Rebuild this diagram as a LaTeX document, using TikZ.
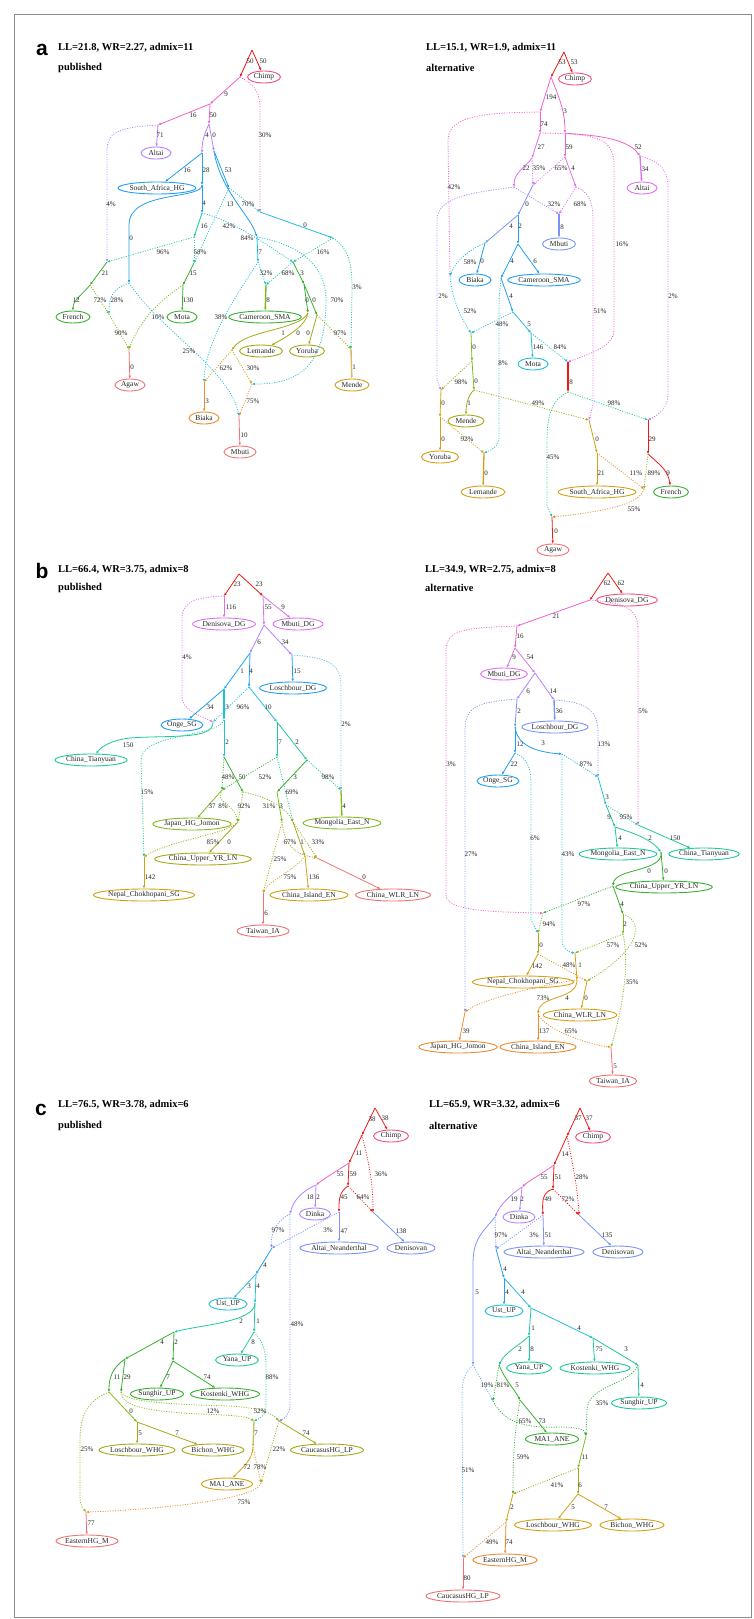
\documentclass[tikz,border=0pt]{standalone}
\usepackage{fontspec}
\setmainfont{Liberation Serif}
\setsansfont{Liberation Sans}
\usetikzlibrary{shapes.geometric,arrows.meta}
\definecolor{cRed}{HTML}{F01818}
\definecolor{cRose}{HTML}{F0507A}
\definecolor{cPink}{HTML}{F064C8}
\definecolor{cMag}{HTML}{E070F0}
\definecolor{cVio}{HTML}{B482FF}
\definecolor{cPeri}{HTML}{7C94F8}
\definecolor{cBlue}{HTML}{20A0F0}
\definecolor{cSky}{HTML}{60B8F8}
\definecolor{cCyan}{HTML}{20C0D8}
\definecolor{cTeal}{HTML}{20C8A0}
\definecolor{cGreen}{HTML}{38B030}
\definecolor{cLime}{HTML}{80BC20}
\definecolor{cOlive}{HTML}{A8A818}
\definecolor{cGold}{HTML}{D4A014}
\definecolor{cTan}{HTML}{D8B868}
\definecolor{cOrange}{HTML}{EC8C2C}
\definecolor{cSalmon}{HTML}{F07272}
\tikzset{
 lf/.style={ellipse, draw=#1, line width=0.9pt, inner sep=0pt, minimum height=12pt, text=black!85, font=\fontsize{7.5}{8}\selectfont},
 se/.style={draw=#1, line width=0.8pt, -{Latex[length=3pt,width=2.6pt]}},
 de/.style={draw=#1, line width=0.8pt, dash pattern=on 1pt off 1.5pt, -{Latex[length=3pt,width=2.6pt]}},
 lab/.style={font=\fontsize{7}{8}\selectfont, inner sep=0pt, text=black!85},
 ttl/.style={font=\bfseries\fontsize{10.5}{12}\selectfont, anchor=west, inner sep=0pt},
 plet/.style={font=\sffamily\bfseries\fontsize{21}{24}\selectfont, inner sep=0pt},
}
\begin{document}
\begin{tikzpicture}[x=1pt,y=-1pt]
\useasboundingbox (0,0) rectangle (753,1619);
\fill[white] (0,0) rectangle (753,1619);
\draw[black!45, line width=0.8pt] (14.5,14.5) rectangle (751,1617);
% ================= titles
\node[plet] (La) at (42,50) {a};
\node[ttl] (Ta1) at (58,48) {LL=21.8, WR=2.27, admix=11};
\node[ttl] (Ta2) at (58,68) {published};
\node[ttl] (Ta3) at (426,48) {LL=15.1, WR=1.9, admix=11};
\node[ttl] (Ta4) at (426,68) {alternative};
\node[plet] (Lb) at (42,571) {b};
\node[ttl] (Tb1) at (58,570) {LL=66.4, WR=3.75, admix=8};
\node[ttl] (Tb2) at (58,588) {published};
\node[ttl] (Tb3) at (425,570) {LL=34.9, WR=2.75, admix=8};
\node[ttl] (Tb4) at (425,588) {alternative};
\node[plet] (Lc) at (41,1110) {c};
\node[ttl] (Tc1) at (58,1105) {LL=76.5, WR=3.78, admix=6};
\node[ttl] (Tc2) at (58,1126) {published};
\node[ttl] (Tc3) at (429,1105) {LL=65.9, WR=3.32, admix=6};
\node[ttl] (Tc4) at (429,1126) {alternative};
% ================= panel a left
\coordinate (Ar) at (252,50); \coordinate (A1) at (240,77); \coordinate (A2) at (210,104);
\coordinate (A3) at (158,125); \coordinate (A4) at (209,124); \coordinate (A5) at (202,153);
\coordinate (A6) at (214,151); \coordinate (A7) at (202,185); \coordinate (A8) at (202,213);
\coordinate (A9) at (229,188); \coordinate (A11) at (260,212); \coordinate (A10) at (257,237);
\coordinate (A13) at (333,238); \coordinate (A14) at (194,237); \coordinate (A19) at (107,262);
\coordinate (A12) at (194,263); \coordinate (A15) at (258,262); \coordinate (A16) at (293,262);
\coordinate (A18) at (90,285); \coordinate (A21) at (129,283); \coordinate (A23) at (183,285);
\coordinate (A17) at (266,285); \coordinate (A25) at (304,284); \coordinate (A20) at (109,314);
\coordinate (A26) at (308,313); \coordinate (A27) at (317,315); \coordinate (A22) at (129,349);
\coordinate (A28) at (232,350); \coordinate (A29) at (351,349); \coordinate (A30) at (204,382);
\coordinate (A31) at (252,384); \coordinate (A24) at (239,416);
\node[lf=cRose, minimum width=33pt] (AChimp) at (264,77) {Chimp};
\node[lf=cVio, minimum width=30pt] (AAltai) at (156,153) {Altai};
\node[lf=cBlue, minimum width=75pt] (ASAHG) at (157,188) {South\_Africa\_HG};
\node[lf=cGreen, minimum width=34pt] (AFrench) at (73,317) {French};
\node[lf=cGreen, minimum width=30pt] (AMota) at (182,317) {Mota};
\node[lf=cGreen, minimum width=70pt] (ACam) at (265,317) {Cameroon\_SMA};
\node[lf=cOlive, minimum width=43pt] (ALem) at (261,351) {Lemande};
\node[lf=cOlive, minimum width=35pt] (AYor) at (307,351) {Yoruba};
\node[lf=cGold, minimum width=34pt] (AMende) at (352,385) {Mende};
\node[lf=cSalmon, minimum width=30pt] (AAgaw) at (130,385) {Agaw};
\node[lf=cOrange, minimum width=30pt] (ABiaka) at (204,418) {Biaka};
\node[lf=cSalmon, minimum width=32pt] (AMbuti) at (240,452) {Mbuti};
\draw[se=cRed] (Ar) -- (A1) node[lab] at (250,61) {50};
\draw[se=cRed] (Ar) -- (AChimp) node[lab] at (263,61) {50};
\draw[se=cPink] (A1) -- (A2) node[lab] at (226,94) {9};
\draw[de=cPink] (A1) .. controls (255,85) and (260,92) .. (260,110) -- (A11) node[lab] at (265,135) {30\%};
\draw[se=cPink] (A2) -- (A3) node[lab] at (193,115) {16};
\draw[se=cPink] (A2) -- (A4) node[lab] at (213,115) {50};
\draw[se=cVio] (A3) -- (AAltai) node[lab] at (160,135) {71};
\draw[de=cVio] (A3) .. controls (125,127) and (107,130) .. (107,150) -- (A19) node[lab] at (111,204) {4\%};
\draw[se=cVio] (A4) .. controls (205,133) and (202,140) .. (A5) node[lab] at (207,135) {4};
\draw[se=cVio] (A4) -- (A6) node[lab] at (214,135) {0};
\draw[se=cBlue] (A5) -- (ASAHG) node[lab] at (187,170) {16};
\draw[se=cBlue] (A5) -- (A7) node[lab] at (206,170) {28};
\draw[se=cBlue] (A6) -- (A9) node[lab] at (228,170) {53};
\draw[se=cBlue] (A6) .. controls (220,190) and (250,215) .. (A10) node[lab] at (230,204) {13};
\draw[se=cBlue] (A7) -- (A8) node[lab] at (204,203) {4};
\draw[se=cBlue] (A7) .. controls (202,200) and (129,190) .. (129,225) -- (A21) node[lab] at (131,238) {0};
\draw[de=cCyan] (A9) -- (A11) node[lab] at (248,204) {70\%};
\draw[de=cCyan] (A9) -- (A12) node[lab] at (229,226) {42\%};
\draw[se=cCyan] (A11) -- (A13) node[lab] at (305,225) {0};
\draw[se=cTeal] (A8) -- (A14) node[lab] at (204,226) {16};
\draw[de=cCyan] (A8) .. controls (230,220) and (260,240) .. (A16) node[lab] at (247,238) {84\%};
\draw[de=cTeal] (A13) -- (A16) node[lab] at (323,252) {16\%};
\draw[de=cTeal] (A13) .. controls (350,250) and (352,265) .. (352,290) -- (A29) node[lab] at (357,287) {3\%};
\draw[se=cCyan] (A10) -- (A15) node[lab] at (260,252) {7};
\draw[de=cCyan] (A10) .. controls (300,245) and (326,265) .. (326,300) .. controls (326,375) and (290,384) .. (A31) node[lab] at (337,300) {70\%};
\draw[de=cTeal] (A14) -- (A19) node[lab] at (163,252) {96\%};
\draw[de=cTeal] (A14) -- (A12) node[lab] at (200,252) {58\%};
\draw[se=cGreen] (A19) -- (A18) node[lab] at (105,273) {21};
\draw[se=cGreen] (A12) -- (A23) node[lab] at (193,273) {15};
\draw[de=cCyan] (A15) -- (A17) node[lab] at (266,273) {32\%};
\draw[de=cCyan] (A15) .. controls (240,290) and (205,340) .. (A30) node[lab] at (221,317) {38\%};
\draw[de=cTeal] (A16) -- (A17) node[lab] at (288,273) {68\%};
\draw[se=cGreen] (A16) -- (A25) node[lab] at (302,273) {3};
\draw[se=cGreen] (A18) .. controls (82,295) and (73,300) .. (AFrench) node[lab] at (76,300) {12};
\draw[de=cLime] (A18) -- (A20) node[lab] at (100,300) {72\%};
\draw[de=cCyan] (A21) .. controls (110,290) and (109,300) .. (A20) node[lab] at (117,300) {28\%};
\draw[de=cCyan] (A21) .. controls (160,330) and (230,370) .. (A24) node[lab] at (189,351) {25\%};
\draw[se=cGreen] (A23) -- (AMota) node[lab] at (188,300) {130};
\draw[de=cLime] (A23) .. controls (160,300) and (140,320) .. (A22) node[lab] at (158,317) {10\%};
\draw[se=cLime, line width=1.4pt] (A17) -- (ACam) node[lab] at (268,300) {8};
\draw[se=cGreen] (A25) -- (A26) node[lab] at (307,300) {0};
\draw[se=cGreen] (A25) -- (A27) node[lab] at (314,300) {0};
\draw[se=cOlive] (A26) .. controls (306,325) and (290,335) .. (ALem) node[lab] at (298,333) {0};
\draw[se=cOlive] (A26) .. controls (300,330) and (245,330) .. (A28) node[lab] at (283,333) {1};
\draw[se=cOlive] (A27) -- (AYor) node[lab] at (308,333) {0};
\draw[de=cOlive] (A27) -- (A29) node[lab] at (340,333) {97\%};
\draw[de=cLime] (A20) -- (A22) node[lab] at (121,333) {90\%};
\draw[se=cSalmon] (A22) -- (AAgaw) node[lab] at (132,367) {0};
\draw[de=cGold] (A28) -- (A30) node[lab] at (226,368) {62\%};
\draw[de=cGold] (A28) -- (A31) node[lab] at (253,368) {30\%};
\draw[se=cTan, line width=1.4pt] (A29) -- (AMende) node[lab] at (354,367) {1};
\draw[se=cOrange] (A30) -- (ABiaka) node[lab] at (207,401) {3};
\draw[de=cOrange] (A31) -- (A24) node[lab] at (253,401) {75\%};
\draw[se=cSalmon] (A24) -- (AMbuti) node[lab] at (244,435) {10};
% ================= panel a right
\coordinate (Br) at (564,52); \coordinate (B1) at (551,77); \coordinate (B2) at (540,112);
\coordinate (B3) at (565,133); \coordinate (B4) at (540,133); \coordinate (B5) at (450,276);
\coordinate (B6) at (532,158); \coordinate (B7) at (565,157); \coordinate (B8) at (640,156);
\coordinate (B9) at (514,187); \coordinate (B10) at (533,185); \coordinate (B11) at (576,187);
\coordinate (B12) at (559,214); \coordinate (B13) at (518,215); \coordinate (B14) at (485,243);
\coordinate (B15) at (518,244); \coordinate (B16) at (471,333); \coordinate (B17) at (501,278);
\coordinate (B18) at (513,312); \coordinate (B19) at (531,333); \coordinate (B20) at (568,362);
\coordinate (B21) at (568,392); \coordinate (B22) at (648,420); \coordinate (B23) at (552,517);
\coordinate (B24) at (472,361); \coordinate (B25) at (474,390); \coordinate (B26) at (441,390);
\coordinate (B27) at (589,420); \coordinate (B28) at (440,417); \coordinate (B29) at (484,453);
\coordinate (B30) at (597,453); \coordinate (B31) at (644,489); \coordinate (B32) at (648,454);
\node[lf=cRose, minimum width=33pt] (BChimp) at (575,79) {Chimp};
\node[lf=cMag, minimum width=30pt] (BAltai) at (642,188) {Altai};
\node[lf=cPeri, minimum width=33pt] (BMbuti) at (559,244) {Mbuti};
\node[lf=cBlue, minimum width=32pt] (BBiaka) at (475,280) {Biaka};
\node[lf=cBlue, minimum width=72pt] (BCam) at (544,280) {Cameroon\_SMA};
\node[lf=cCyan, minimum width=30pt] (BMota) at (533,364) {Mota};
\node[lf=cOlive, minimum width=36pt] (BMende) at (466,421) {Mende};
\node[lf=cGold, minimum width=37pt] (BYor) at (440,457) {Yoruba};
\node[lf=cGold, minimum width=44pt] (BLem) at (483,492) {Lemande};
\node[lf=cGold, minimum width=77pt] (BSAHG) at (597,492) {South\_Africa\_HG};
\node[lf=cGreen, minimum width=35pt] (BFrench) at (671,492) {French};
\node[lf=cSalmon, minimum width=32pt] (BAgaw) at (553,550) {Agaw};
\draw[se=cRed] (Br) -- (B1) node[lab] at (562,62) {53};
\draw[se=cRed] (Br) -- (BChimp) node[lab] at (574,62) {53};
\draw[se=cPink] (B1) -- (B2) node[lab] at (551,97) {194};
\draw[se=cPink] (B1) .. controls (558,95) and (565,110) .. (B3) node[lab] at (565,111) {3};
\draw[se=cPink] (B2) -- (B4) node[lab] at (544,124) {74};
\draw[de=cPink] (B2) .. controls (500,113) and (448,112) .. (448,140) -- (B5) node[lab] at (454,187) {42\%};
\draw[se=cMag] (B4) -- (B6) node[lab] at (541,147) {27};
\draw[de=cPink] (B4) .. controls (590,134) and (614,135) .. (614,165) -- (614,330) .. controls (614,348) and (585,355) .. (B20) node[lab] at (622,244) {16\%};
\draw[se=cPink] (B3) -- (B7) node[lab] at (569,147) {59};
\draw[se=cPink] (B3) .. controls (580,135) and (625,135) .. (B8) node[lab] at (638,147) {52};
\draw[se=cMag, line width=1.3pt] (B8) -- (BAltai) node[lab] at (645,169) {34};
\draw[de=cMag] (B8) .. controls (660,162) and (668,168) .. (668,190) -- (668,395) .. controls (668,408) and (658,415) .. (B22) node[lab] at (673,296) {2\%};
\draw[se=cMag] (B6) .. controls (525,168) and (514,172) .. (B9) node[lab] at (526,168) {22};
\draw[de=cMag] (B6) -- (B10) node[lab] at (539,168) {35\%};
\draw[de=cMag] (B7) -- (B10) node[lab] at (561,168) {65\%};
\draw[se=cMag] (B7) -- (B11) node[lab] at (573,168) {4};
\draw[de=cMag] (B11) -- (B12) node[lab] at (580,204) {68\%};
\draw[de=cMag] (B11) .. controls (588,192) and (593,200) .. (593,220) -- (593,405) -- (B27) node[lab] at (600,311) {51\%};
\draw[de=cVio] (B9) -- (B12) node[lab] at (554,204) {32\%};
\draw[de=cVio] (B9) .. controls (480,192) and (437,195) .. (437,220) -- (437,380) -- (B26) node[lab] at (443,296) {2\%};
\draw[se=cPeri, line width=1.3pt] (B12) -- (BMbuti) node[lab] at (562,227) {8};
\draw[se=cPeri] (B10) -- (B13) node[lab] at (527,204) {0};
\draw[se=cPeri] (B13) -- (B14) node[lab] at (511,226) {4};
\draw[se=cBlue] (B13) -- (B15) node[lab] at (520,226) {2};
\draw[se=cBlue] (B14) -- (BBiaka) node[lab] at (482,261) {0};
\draw[de=cCyan] (B14) .. controls (468,250) and (455,262) .. (B5) node[lab] at (470,262) {58\%};
\draw[de=cCyan] (B5) .. controls (452,300) and (462,320) .. (B16) node[lab] at (470,311) {52\%};
\draw[se=cBlue] (B15) -- (BCam) node[lab] at (535,261) {6};
\draw[se=cBlue] (B15) -- (B17) node[lab] at (512,261) {4};
\draw[se=cBlue] (B17) -- (B18) node[lab] at (511,296) {4};
\draw[de=cCyan] (B17) -- (499,300) -- (499,438) .. controls (499,446) and (492,450) .. (B29) node[lab] at (503,363) {8\%};
\draw[se=cCyan] (B18) -- (B19) node[lab] at (529,324) {5};
\draw[de=cCyan] (B18) -- (B16) node[lab] at (502,324) {48\%};
\draw[se=cCyan] (B19) -- (BMota) node[lab] at (538,347) {146};
\draw[de=cCyan] (B19) -- (B20) node[lab] at (560,347) {84\%};
\draw[se=cRed, line width=1.3pt] (B20) -- (B21) node[lab] at (571,382) {8};
\draw[de=cTeal] (B21) -- (B22) node[lab] at (614,403) {98\%};
\draw[de=cTeal] (B21) .. controls (555,398) and (547,410) .. (547,440) -- (547,505) -- (B23) node[lab] at (553,457) {45\%};
\draw[se=cLime] (B16) -- (B24) node[lab] at (474,347) {0};
\draw[se=cLime] (B24) -- (B25) node[lab] at (476,381) {0};
\draw[de=cOlive] (B24) -- (B26) node[lab] at (461,382) {98\%};
\draw[se=cOlive] (B25) .. controls (468,395) and (466,405) .. (BMende) node[lab] at (469,403) {1};
\draw[de=cOlive] (B25) -- (B27) node[lab] at (538,403) {49\%};
\draw[se=cGold] (B26) -- (B28) node[lab] at (443,403) {0};
\draw[se=cGold] (B28) -- (BYor) node[lab] at (443,439) {0};
\draw[de=cGold] (B28) -- (B29) node[lab] at (467,439) {92\%};
\draw[se=cGold, line width=1.3pt] (B29) -- (BLem) node[lab] at (486,473) {0};
\draw[se=cGold] (B27) -- (B30) node[lab] at (597,439) {0};
\draw[se=cGold] (B30) -- (BSAHG) node[lab] at (601,473) {21};
\draw[de=cOrange] (B30) -- (B31) node[lab] at (636,473) {11\%};
\draw[se=cRed] (B22) -- (B32) node[lab] at (652,439) {29};
\draw[se=cRed] (B32) .. controls (660,465) and (668,470) .. (BFrench) node[lab] at (668,473) {9};
\draw[de=cLime] (B32) -- (B31) node[lab] at (654,473) {89\%};
\draw[de=cOrange] (B31) .. controls (640,505) and (600,512) .. (B23) node[lab] at (634,509) {55\%};
\draw[se=cRed] (B23) -- (BAgaw) node[lab] at (556,531) {0};
% ================= panel b left
\coordinate (Cr) at (239,574); \coordinate (C1) at (224,596); \coordinate (C2) at (263,596);
\coordinate (C4) at (264,625); \coordinate (C5) at (250,653); \coordinate (C6) at (292,655);
\coordinate (C8) at (224,689); \coordinate (C9) at (249,687); \coordinate (C3) at (213,722);
\coordinate (C10) at (224,720); \coordinate (C11) at (277,722); \coordinate (C7) at (341,790);
\coordinate (C12) at (224,757); \coordinate (C14) at (277,757); \coordinate (C15) at (307,760);
\coordinate (C17) at (222,790); \coordinate (C18) at (243,792); \coordinate (C16) at (277,792);
\coordinate (C20) at (238,822); \coordinate (C21) at (282,822); \coordinate (C19) at (293,822);
\coordinate (C13) at (144,857); \coordinate (C23) at (305,856); \coordinate (C22) at (317,858);
\coordinate (C24) at (263,893);
\node[lf=cMag, minimum width=63pt] (CDen) at (224,624) {Denisova\_DG};
\node[lf=cMag, minimum width=50pt] (CMbuti) at (298,624) {Mbuti\_DG};
\node[lf=cBlue, minimum width=67pt] (CLosch) at (293,688) {Loschbour\_DG};
\node[lf=cBlue, minimum width=37pt] (COnge) at (182,725) {Onge\_SG};
\node[lf=cTeal, minimum width=72pt] (CTian) at (91,760) {China\_Tianyuan};
\node[lf=cLime, minimum width=73pt] (CMong) at (342,823) {Mongolia\_East\_N};
\node[lf=cLime, minimum width=78pt] (CJap) at (192,824) {Japan\_HG\_Jomon};
\node[lf=cOlive, minimum width=95pt] (CUpper) at (203,859) {China\_Upper\_YR\_LN};
\node[lf=cGold, minimum width=100pt] (CNepal) at (144,895) {Nepal\_Chokhopani\_SG};
\node[lf=cGold, minimum width=78pt] (CIsland) at (309,895) {China\_Island\_EN};
\node[lf=cSalmon, minimum width=75pt] (CWLR) at (393,895) {China\_WLR\_LN};
\node[lf=cSalmon, minimum width=52pt] (CTaiwan) at (263,931) {Taiwan\_IA};
\draw[se=cRed] (Cr) -- (C1) node[lab] at (237,584) {23};
\draw[se=cRed] (Cr) -- (C2) node[lab] at (259,584) {23};
\draw[se=cMag] (C1) -- (CDen) node[lab] at (231,607) {116};
\draw[de=cMag] (C1) .. controls (200,597) and (182,600) .. (182,618) -- (182,695) .. controls (182,712) and (200,715) .. (C3) node[lab] at (187,657) {4\%};
\draw[se=cMag] (C2) -- (CMbuti) node[lab] at (283,607) {9};
\draw[se=cMag] (C2) -- (C4) node[lab] at (268,607) {55};
\draw[se=cVio] (C4) -- (C5) node[lab] at (259,642) {6};
\draw[se=cVio] (C4) -- (C6) node[lab] at (285,642) {34};
\draw[se=cBlue] (C6) -- (CLosch) node[lab] at (297,671) {15};
\draw[de=cSky] (C6) .. controls (320,657) and (341,660) .. (341,685) -- (C7) node[lab] at (346,724) {2\%};
\draw[se=cBlue] (C5) -- (C8) node[lab] at (242,671) {1};
\draw[se=cBlue] (C5) -- (C9) node[lab] at (251,671) {4};
\draw[se=cBlue] (C8) -- (COnge) node[lab] at (210,707) {34};
\draw[se=cCyan, line width=1.5pt] (C8) -- (C10) node[lab] at (227,707) {3};
\draw[de=cCyan] (C9) -- (C3) node[lab] at (243,707) {96\%};
\draw[se=cCyan] (C9) -- (C11) node[lab] at (268,707) {10};
\draw[se=cTeal] (C3) .. controls (214,740) and (170,735) .. (130,738) .. controls (112,740) and (102,746) .. (CTian) node[lab] at (128,745) {150};
\draw[se=cCyan] (C10) -- (C12) node[lab] at (227,742) {2};
\draw[de=cTeal] (C10) .. controls (218,738) and (142,732) .. (141,760) -- (C13) node[lab] at (147,792) {15\%};
\draw[se=cTeal] (C11) -- (C14) node[lab] at (280,742) {7};
\draw[se=cTeal] (C11) -- (C15) node[lab] at (297,742) {2};
\draw[de=cTeal] (C15) -- (C7) node[lab] at (328,777) {98\%};
\draw[se=cGreen] (C15) -- (C16) node[lab] at (295,777) {3};
\draw[se=cLime, line width=1.3pt] (C7) -- (CMong) node[lab] at (344,806) {4};
\draw[de=cGreen] (C12) -- (C17) node[lab] at (228,777) {48\%};
\draw[se=cGreen] (C12) -- (C18) node[lab] at (242,777) {50};
\draw[de=cGreen] (C14) -- (C17) node[lab] at (265,777) {52\%};
\draw[de=cTeal] (C14) -- (C19) node[lab] at (292,792) {69\%};
\draw[se=cLime] (C17) -- (CJap) node[lab] at (212,806) {37};
\draw[de=cLime] (C17) .. controls (215,805) and (232,800) .. (C20) node[lab] at (223,806) {8\%};
\draw[de=cLime] (C18) -- (C20) node[lab] at (244,806) {92\%};
\draw[de=cLime] (C18) .. controls (260,795) and (285,805) .. (C19) node[lab] at (269,806) {31\%};
\draw[se=cLime] (C16) -- (C21) node[lab] at (281,806) {3};
\draw[se=cOlive] (C20) -- (CUpper) node[lab] at (229,842) {0};
\draw[de=cOlive] (C20) .. controls (225,835) and (170,840) .. (C13) node[lab] at (213,842) {85\%};
\draw[de=cOlive] (C21) .. controls (285,850) and (300,855) .. (C22) node[lab] at (290,842) {67\%};
\draw[de=cOlive] (C21) -- (C24) node[lab] at (280,859) {25\%};
\draw[se=cOlive] (C19) -- (C23) node[lab] at (302,842) {1};
\draw[de=cOlive] (C19) -- (C22) node[lab] at (318,842) {33\%};
\draw[se=cGold] (C13) -- (CNepal) node[lab] at (150,877) {142};
\draw[se=cGold] (C23) -- (CIsland) node[lab] at (314,877) {136};
\draw[de=cGold] (C23) .. controls (295,870) and (270,880) .. (C24) node[lab] at (290,877) {75\%};
\draw[se=cSalmon] (C22) -- (CWLR) node[lab] at (364,877) {0};
\draw[se=cSalmon] (C24) -- (CTaiwan) node[lab] at (266,913) {6};
% ================= panel b right
\coordinate (Dr) at (608,573); \coordinate (D1) at (590,600); \coordinate (D2) at (517,626);
\coordinate (D5) at (515,648); \coordinate (D6) at (535,673); \coordinate (D7) at (517,699);
\coordinate (D8) at (554,700); \coordinate (D9) at (598,777); \coordinate (D10) at (515,727);
\coordinate (D12) at (515,753); \coordinate (D13) at (562,754); \coordinate (D16) at (606,805);
\coordinate (D17) at (615,827); \coordinate (D3) at (638,825); \coordinate (D18) at (661,852);
\coordinate (D19) at (613,886); \coordinate (D4) at (543,913); \coordinate (D20) at (623,914);
\coordinate (D14) at (538,933); \coordinate (D23) at (623,934); \coordinate (D21) at (538,954);
\coordinate (D15) at (575,953); \coordinate (D25) at (577,980); \coordinate (D22) at (587,981);
\coordinate (D26) at (538,1014); \coordinate (D11) at (465,1012); \coordinate (D24) at (611,1047);
\node[lf=cRose, minimum width=58pt] (DDen) at (627,600) {Denisova\_DG};
\node[lf=cMag, minimum width=47pt] (DMbuti) at (504,674) {Mbuti\_DG};
\node[lf=cPeri, minimum width=63pt] (DLosch) at (555,727) {Loschbour\_DG};
\node[lf=cBlue, minimum width=42pt] (DOnge) at (498,781) {Onge\_SG};
\node[lf=cTeal, minimum width=72pt] (DMong) at (618,854) {Mongolia\_East\_N};
\node[lf=cTeal, minimum width=67pt] (DTian) at (704,854) {China\_Tianyuan};
\node[lf=cGreen, minimum width=88pt] (DUpper) at (664,887) {China\_Upper\_YR\_LN};
\node[lf=cGold, minimum width=92pt] (DNepal) at (523,982) {Nepal\_Chokhopani\_SG};
\node[lf=cGold, minimum width=70pt] (DWLR) at (580,1015) {China\_WLR\_LN};
\node[lf=cOrange, minimum width=72pt] (DIsland) at (538,1047) {China\_Island\_EN};
\node[lf=cOrange, minimum width=72pt] (DJap) at (458,1047) {Japan\_HG\_Jomon};
\node[lf=cSalmon, minimum width=47pt] (DTaiwan) at (613,1081) {Taiwan\_IA};
\draw[se=cRed] (Dr) -- (D1) node[lab] at (607,583) {62};
\draw[se=cRed] (Dr) -- (DDen) node[lab] at (621,583) {62};
\draw[se=cPink] (D1) -- (D2) node[lab] at (556,616) {21};
\draw[de=cPink] (D1) .. controls (628,603) and (638,610) .. (638,630) -- (D3) node[lab] at (643,711) {5\%};
\draw[de=cPink] (D2) .. controls (470,628) and (446,628) .. (446,650) -- (446,895) .. controls (446,912) and (500,912) .. (D4) node[lab] at (451,764) {3\%};
\draw[se=cPink] (D2) -- (D5) node[lab] at (520,636) {16};
\draw[se=cMag] (D5) -- (DMbuti) node[lab] at (514,657) {9};
\draw[se=cMag] (D5) -- (D6) node[lab] at (530,657) {54};
\draw[se=cVio] (D6) -- (D7) node[lab] at (528,691) {6};
\draw[se=cVio] (D6) -- (D8) node[lab] at (553,691) {14};
\draw[se=cPeri, line width=1.4pt] (D8) -- (DLosch) node[lab] at (559,711) {36};
\draw[de=cPeri] (D8) .. controls (590,702) and (598,712) .. (598,735) -- (D9) node[lab] at (604,744) {13\%};
\draw[se=cPeri] (D7) -- (D10) node[lab] at (519,711) {2};
\draw[de=cPeri] (D7) .. controls (480,702) and (465,705) .. (465,730) -- (D11) node[lab] at (471,854) {27\%};
\draw[se=cBlue] (D10) -- (D12) node[lab] at (520,744) {12};
\draw[se=cBlue] (D10) .. controls (517,745) and (535,752) .. (D13) node[lab] at (543,743) {3};
\draw[se=cBlue] (D12) -- (DOnge) node[lab] at (514,764) {22};
\draw[de=cCyan] (D12) .. controls (526,758) and (531,765) .. (531,785) -- (531,920) -- (D14) node[lab] at (535,838) {6\%};
\draw[de=cCyan] (D13) -- (D9) node[lab] at (586,764) {87\%};
\draw[de=cCyan] (D13) -- (562,940) .. controls (562,948) and (568,952) .. (D15) node[lab] at (568,854) {43\%};
\draw[se=cCyan] (D9) -- (D16) node[lab] at (607,797) {3};
\draw[se=cTeal] (D16) -- (D17) node[lab] at (609,817) {9};
\draw[de=cTeal] (D16) -- (D3) node[lab] at (626,817) {95\%};
\draw[se=cTeal] (D17) -- (DMong) node[lab] at (620,838) {4};
\draw[se=cTeal] (D17) .. controls (630,832) and (650,838) .. (D18) node[lab] at (650,838) {2};
\draw[se=cTeal] (D3) -- (DTian) node[lab] at (675,838) {150};
\draw[se=cGreen] (D18) -- (DUpper) node[lab] at (666,871) {0};
\draw[se=cGreen] (D18) .. controls (664,872) and (615,868) .. (D19) node[lab] at (649,871) {0};
\draw[de=cGreen] (D19) -- (D4) node[lab] at (584,904) {97\%};
\draw[se=cGreen] (D19) -- (D20) node[lab] at (622,904) {4};
\draw[de=cLime] (D4) -- (D14) node[lab] at (549,924) {94\%};
\draw[se=cLime] (D20) -- (D23) node[lab] at (625,924) {2};
\draw[de=cLime] (D20) .. controls (645,922) and (640,950) .. (D22) node[lab] at (641,945) {52\%};
\draw[de=cLime] (D23) -- (D15) node[lab] at (613,945) {57\%};
\draw[de=cLime] (D23) .. controls (630,965) and (622,1010) .. (D24) node[lab] at (632,982) {35\%};
\draw[se=cOlive] (D14) -- (D21) node[lab] at (541,945) {0};
\draw[se=cGold] (D21) -- (DNepal) node[lab] at (537,966) {142};
\draw[de=cGold] (D21) -- (D22) node[lab] at (569,965) {48\%};
\draw[se=cGold] (D15) -- (D25) node[lab] at (580,965) {1};
\draw[se=cGold] (D25) .. controls (577,1000) and (540,995) .. (D26) node[lab] at (567,998) {4};
\draw[de=cOrange] (D25) .. controls (540,985) and (480,1000) .. (D11) node[lab] at (543,998) {73\%};
\draw[se=cGold] (D22) -- (DWLR) node[lab] at (586,998) {0};
\draw[se=cOrange] (D26) -- (DIsland) node[lab] at (544,1031) {137};
\draw[de=cOrange] (D26) .. controls (545,1030) and (590,1045) .. (D24) node[lab] at (571,1031) {65\%};
\draw[se=cOrange] (D11) -- (DJap) node[lab] at (466,1031) {39};
\draw[se=cSalmon] (D24) -- (DTaiwan) node[lab] at (615,1066) {5};
% ================= panel c left
\coordinate (Er) at (375,1108); \coordinate (E1) at (362,1135); \coordinate (E2) at (349,1163);
\coordinate (E3) at (373,1212); \coordinate (E4) at (316,1185); \coordinate (E5) at (348,1186);
\coordinate (E6) at (290,1214); \coordinate (E7) at (339,1212); \coordinate (E8) at (272,1248);
\coordinate (E10) at (256,1274); \coordinate (E11) at (255,1303); \coordinate (E12) at (174,1332);
\coordinate (E13) at (254,1332); \coordinate (E14) at (254,1421); \coordinate (E9) at (279,1421);
\coordinate (E15) at (125,1359); \coordinate (E16) at (173,1361); \coordinate (E17) at (109,1392);
\coordinate (E18) at (121,1392); \coordinate (E19) at (137,1422); \coordinate (E21) at (253,1447);
\coordinate (E22) at (261,1483); \coordinate (E20) at (86,1512);
\node[lf=cRose, minimum width=35pt] (EChimp) at (391,1136) {Chimp};
\node[lf=cVio, minimum width=31pt] (EDinka) at (315,1214) {Dinka};
\node[lf=cPeri, minimum width=48pt] (EDen) at (411,1248) {Denisovan};
\node[lf=cPeri, minimum width=74pt] (EAltai) at (339,1248) {Altai\_Neanderthal};
\node[lf=cCyan, minimum width=38pt] (EUst) at (228,1304) {Ust\_UP};
\node[lf=cTeal, minimum width=43pt] (EYana) at (237,1360) {Yana\_UP};
\node[lf=cGreen, minimum width=53pt] (ESung) at (157,1394) {Sunghir\_UP};
\node[lf=cGreen, minimum width=68pt] (EKost) at (225,1394) {Kostenki\_WHG};
\node[lf=cOlive, minimum width=75pt] (ELosch) at (137,1450) {Loschbour\_WHG};
\node[lf=cOlive, minimum width=62pt] (EBich) at (213,1450) {Bichon\_WHG};
\node[lf=cOlive, minimum width=72pt] (ECauc) at (327,1450) {CaucasusHG\_LP};
\node[lf=cGold, minimum width=51pt] (EMA1) at (227,1484) {MA1\_ANE};
\node[lf=cSalmon, minimum width=62pt] (EEast) at (87,1541) {EasternHG\_M};
\draw[se=cRed] (Er) -- (E1) node[lab] at (372,1119) {38};
\draw[se=cRed] (Er) -- (EChimp) node[lab] at (385,1118) {38};
\draw[se=cRed] (E1) -- (E2) node[lab] at (359,1153) {11};
\draw[de=cRed] (E1) .. controls (368,1160) and (373,1180) .. (E3) node[lab] at (381,1174) {36\%};
\draw[se=cPink] (E2) .. controls (335,1172) and (325,1178) .. (E4) node[lab] at (340,1174) {55};
\draw[se=cRed] (E2) -- (E5) node[lab] at (353,1174) {59};
\draw[se=cVio] (E4) .. controls (300,1192) and (293,1202) .. (E6) node[lab] at (310,1197) {18};
\draw[se=cVio] (E4) -- (EDinka) node[lab] at (318,1197) {2};
\draw[se=cRed] (E5) .. controls (339,1192) and (339,1200) .. (E7) node[lab] at (344,1197) {45};
\draw[de=cRed] (E5) -- (E3) node[lab] at (363,1197) {64\%};
\draw[se=cPeri] (E3) -- (EDen) node[lab] at (401,1231) {138};
\draw[se=cPeri] (E7) -- (EAltai) node[lab] at (344,1231) {47};
\draw[de=cPeri] (E7) -- (E8) node[lab] at (328,1230) {3\%};
\draw[de=cPeri] (E6) .. controls (274,1222) and (270,1238) .. (E8) node[lab] at (278,1230) {97\%};
\draw[de=cPeri] (E6) -- (290,1405) .. controls (290,1414) and (285,1418) .. (E9) node[lab] at (297,1324) {48\%};
\draw[se=cBlue] (E8) -- (E10) node[lab] at (265,1265) {4};
\draw[se=cCyan] (E10) -- (EUst) node[lab] at (249,1286) {3};
\draw[se=cCyan] (E10) -- (E11) node[lab] at (258,1286) {4};
\draw[se=cTeal] (E11) .. controls (255,1322) and (200,1325) .. (E12) node[lab] at (241,1321) {2};
\draw[se=cTeal] (E11) -- (E13) node[lab] at (258,1321) {1};
\draw[se=cTeal] (E13) -- (EYana) node[lab] at (253,1342) {8};
\draw[de=cTeal] (E13) .. controls (262,1340) and (266,1350) .. (266,1365) -- (266,1408) .. controls (266,1415) and (260,1418) .. (E14) node[lab] at (272,1377) {88\%};
\draw[se=cGreen] (E12) -- (E15) node[lab] at (162,1342) {4};
\draw[se=cGreen] (E12) -- (E16) node[lab] at (176,1342) {2};
\draw[se=cGreen] (E16) -- (ESung) node[lab] at (168,1377) {7};
\draw[se=cGreen] (E16) -- (EKost) node[lab] at (207,1377) {74};
\draw[se=cGreen] (E15) .. controls (112,1368) and (109,1378) .. (E17) node[lab] at (117,1377) {11};
\draw[se=cGreen] (E15) -- (E18) node[lab] at (127,1377) {29};
\draw[se=cLime] (E17) -- (E19) node[lab] at (131,1411) {0};
\draw[de=cLime] (E17) .. controls (90,1400) and (80,1412) .. (80,1440) -- (80,1498) .. controls (80,1505) and (83,1508) .. (E20) node[lab] at (87,1449) {25\%};
\draw[de=cLime] (E18) .. controls (122,1405) and (140,1411) .. (200,1414) .. controls (235,1415) and (248,1417) .. (E14) node[lab] at (213,1411) {12\%};
\draw[de=cLime] (E18) .. controls (125,1400) and (150,1404) .. (230,1406) .. controls (260,1408) and (272,1413) .. (E9) node[lab] at (260,1411) {52\%};
\draw[se=cOlive] (E19) -- (ELosch) node[lab] at (140,1433) {5};
\draw[se=cOlive] (E19) -- (EBich) node[lab] at (177,1433) {7};
\draw[se=cOlive!70, line width=1.3pt] (E14) -- (E21) node[lab] at (256,1433) {7};
\draw[se=cOlive] (E9) -- (ECauc) node[lab] at (306,1433) {74};
\draw[de=cOlive] (E9) -- (E22) node[lab] at (279,1449) {22\%};
\draw[se=cGold] (E21) .. controls (253,1460) and (240,1470) .. (EMA1) node[lab] at (247,1467) {72};
\draw[de=cGold] (E21) -- (E22) node[lab] at (260,1467) {78\%};
\draw[de=cOrange] (E22) .. controls (258,1500) and (150,1510) .. (E20) node[lab] at (244,1502) {75\%};
\draw[se=cSalmon] (E20) -- (EEast) node[lab] at (91,1523) {77};
% ================= panel c right
\coordinate (Fr) at (580,1108); \coordinate (F1) at (567,1136); \coordinate (F2) at (554,1165);
\coordinate (F3) at (579,1215); \coordinate (F4) at (522,1187); \coordinate (F5) at (553,1189);
\coordinate (F6) at (495,1217); \coordinate (F7) at (543,1215); \coordinate (F8) at (496,1249);
\coordinate (F10) at (504,1278); \coordinate (F11) at (531,1308); \coordinate (F12) at (529,1336);
\coordinate (F13) at (593,1338); \coordinate (F9) at (473,1365); \coordinate (F14) at (499,1365);
\coordinate (F15) at (638,1365); \coordinate (F17) at (493,1401); \coordinate (F18) at (520,1400);
\coordinate (F16) at (586,1436); \coordinate (F21) at (578,1468); \coordinate (F22) at (578,1494);
\coordinate (F20) at (513,1494); \coordinate (F23) at (506,1522); \coordinate (F19) at (463,1558);
\node[lf=cRose, minimum width=35pt] (FChimp) at (593,1137) {Chimp};
\node[lf=cVio, minimum width=32pt] (FDinka) at (519,1217) {Dinka};
\node[lf=cPeri, minimum width=80pt] (FAltai) at (544,1252) {Altai\_Neanderthal};
\node[lf=cPeri, minimum width=50pt] (FDen) at (618,1252) {Denisovan};
\node[lf=cCyan, minimum width=38pt] (FUst) at (504,1311) {Ust\_UP};
\node[lf=cTeal, minimum width=45pt] (FYana) at (529,1368) {Yana\_UP};
\node[lf=cTeal, minimum width=70pt] (FKost) at (595,1368) {Kostenki\_WHG};
\node[lf=cTeal, minimum width=55pt] (FSung) at (639,1403) {Sunghir\_UP};
\node[lf=cGreen, minimum width=53pt] (FMA1) at (552,1439) {MA1\_ANE};
\node[lf=cGold, minimum width=77pt] (FLosch) at (553,1525) {Loschbour\_WHG};
\node[lf=cGold, minimum width=64pt] (FBich) at (632,1525) {Bichon\_WHG};
\node[lf=cOrange, minimum width=64pt] (FEast) at (505,1560) {EasternHG\_M};
\node[lf=cSalmon, minimum width=74pt] (FCauc) at (463,1596) {CaucasusHG\_LP};
\draw[se=cRed] (Fr) -- (F1) node[lab] at (578,1118) {37};
\draw[se=cRed] (Fr) -- (FChimp) node[lab] at (589,1118) {37};
\draw[se=cRed] (F1) -- (F2) node[lab] at (565,1154) {14};
\draw[de=cRed] (F1) .. controls (572,1160) and (578,1190) .. (F3) node[lab] at (582,1177) {28\%};
\draw[se=cPink] (F2) .. controls (540,1175) and (530,1180) .. (F4) node[lab] at (544,1177) {55};
\draw[se=cRed] (F2) -- (F5) node[lab] at (558,1177) {51};
\draw[se=cVio] (F4) .. controls (510,1195) and (500,1205) .. (F6) node[lab] at (514,1199) {19};
\draw[se=cVio] (F4) -- (FDinka) node[lab] at (522,1199) {2};
\draw[se=cRed] (F5) .. controls (543,1192) and (542,1200) .. (F7) node[lab] at (548,1199) {49};
\draw[de=cRed] (F5) -- (F3) node[lab] at (568,1199) {72\%};
\draw[se=cPeri] (F3) -- (FDen) node[lab] at (607,1235) {135};
\draw[se=cPeri] (F7) -- (FAltai) node[lab] at (548,1235) {51};
\draw[de=cPeri] (F7) -- (F8) node[lab] at (534,1235) {3\%};
\draw[de=cPeri] (F6) -- (F8) node[lab] at (501,1235) {97\%};
\draw[se=cPeri] (F6) .. controls (480,1235) and (473,1240) .. (473,1265) -- (F9) node[lab] at (477,1292) {5};
\draw[se=cBlue] (F8) -- (F10) node[lab] at (505,1269) {4};
\draw[se=cBlue] (F10) -- (FUst) node[lab] at (507,1292) {4};
\draw[se=cCyan] (F10) -- (F11) node[lab] at (523,1292) {4};
\draw[se=cTeal] (F11) -- (F12) node[lab] at (533,1328) {1};
\draw[se=cCyan] (F11) -- (F13) node[lab] at (579,1328) {4};
\draw[se=cTeal] (F12) .. controls (520,1345) and (505,1352) .. (F14) node[lab] at (520,1349) {2};
\draw[se=cTeal] (F12) -- (FYana) node[lab] at (532,1349) {8};
\draw[se=cTeal] (F13) -- (FKost) node[lab] at (599,1349) {75};
\draw[se=cTeal] (F13) -- (F15) node[lab] at (626,1349) {3};
\draw[se=cTeal] (F15) -- (FSung) node[lab] at (642,1385) {4};
\draw[de=cGreen] (F15) .. controls (630,1385) and (588,1385) .. (587,1410) -- (F16) node[lab] at (602,1403) {35\%};
\draw[de=cGreen] (F14) -- (F17) node[lab] at (503,1385) {81\%};
\draw[se=cGreen] (F14) .. controls (505,1380) and (515,1390) .. (F18) node[lab] at (517,1385) {5};
\draw[de=cSky] (F9) -- (F17) node[lab] at (487,1385) {19\%};
\draw[de=cSky] (F9) .. controls (462,1375) and (462,1385) .. (462,1400) -- (F19) node[lab] at (468,1470) {51\%};
\draw[de=cGreen] (F17) .. controls (505,1425) and (530,1428) .. (560,1427) .. controls (578,1427) and (585,1430) .. (F16) node[lab] at (525,1421) {65\%};
\draw[se=cGreen] (F18) -- (FMA1) node[lab] at (542,1421) {73};
\draw[de=cGreen] (F18) .. controls (515,1430) and (513,1450) .. (F20) node[lab] at (523,1457) {59\%};
\draw[se=cLime] (F16) -- (F21) node[lab] at (585,1457) {11};
\draw[se=cOlive] (F21) -- (F22) node[lab] at (580,1485) {6};
\draw[de=cOlive] (F21) -- (F20) node[lab] at (557,1485) {41\%};
\draw[se=cGold] (F22) -- (FLosch) node[lab] at (573,1507) {5};
\draw[se=cGold] (F22) -- (FBich) node[lab] at (606,1507) {7};
\draw[se=cGold] (F20) -- (F23) node[lab] at (512,1507) {2};
\draw[se=cOrange] (F23) -- (FEast) node[lab] at (509,1542) {74};
\draw[de=cOrange] (F23) -- (F19) node[lab] at (492,1542) {49\%};
\draw[se=cSalmon] (F19) -- (FCauc) node[lab] at (467,1578) {80};
\end{tikzpicture}
\end{document}
